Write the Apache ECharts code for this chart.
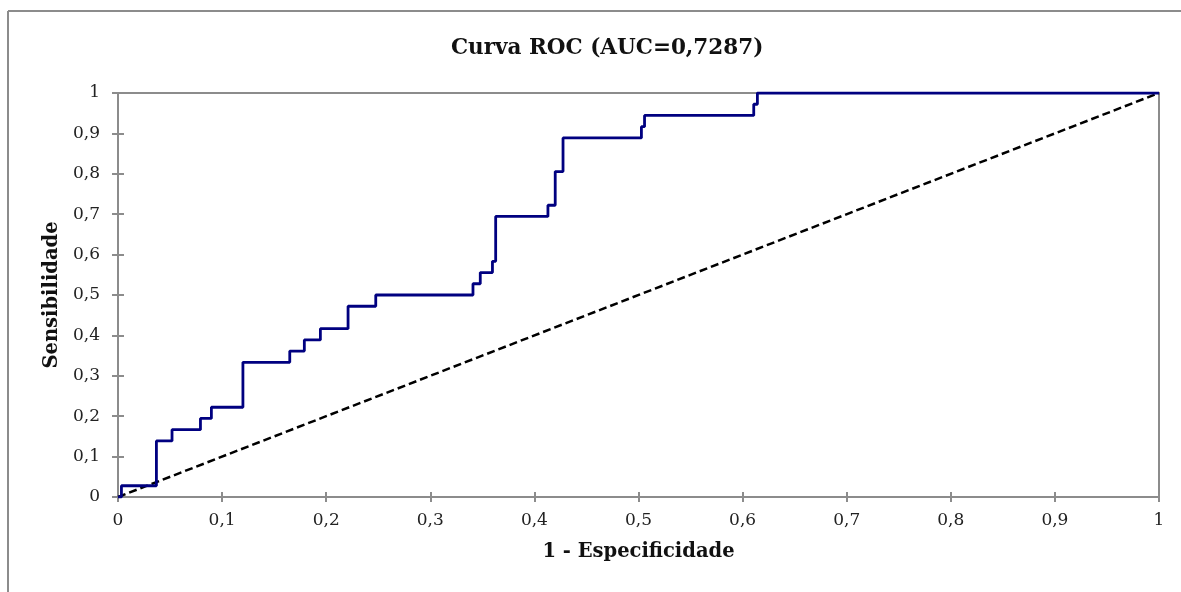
<!DOCTYPE html>
<html>
<head>
<meta charset="utf-8">
<script src="https://cdn.jsdelivr.net/npm/echarts@6/dist/echarts.min.js"></script>
<style>
  html, body { margin: 0; padding: 0; background: #fff; }
  #main { width: 1181px; height: 592px; }
</style>
</head>
<body>
<div id="main"></div>
<script>
// ROC points (1 - especificidade, sensibilidade)
var fpr = [0, 0.0033, 0.0369, 0.0519, 0.0792, 0.0897, 0.120, 0.165, 0.179, 0.1944, 0.221, 0.2476,
           0.341, 0.348, 0.3597, 0.3628, 0.413, 0.420, 0.4275, 0.5028, 0.5058, 0.6107, 0.6142, 1];
var tpr = [0, 0.0278, 0.1389, 0.1667, 0.1944, 0.2222, 0.3333, 0.3611, 0.3889, 0.4167, 0.4722, 0.5,
           0.5278, 0.5556, 0.5833, 0.6944, 0.7222, 0.8056, 0.8889, 0.9167, 0.9444, 0.9722, 1, 1];
// reference diagonal
var diagX = [0, 1];
var diagY = [0, 1];

var titleText = 'Curva ROC (AUC=0,7287)';
var xName = '1 - Especificidade';
var yName = 'Sensibilidade';

var chart = echarts.init(document.getElementById('main'));

var serif = 'DejaVu Serif';
var axisGray = '#8c8c8c';

function fmt(v) {
    return String(Math.round(v * 10) / 10).replace('.', ',');
}

var rocData = fpr.map(function (x, i) { return [x, tpr[i]]; });
var diagData = diagX.map(function (x, i) { return [x, diagY[i]]; });

chart.setOption({
    animation: false,
    // outer chart frame: only its top and left edges fall inside the picture
    graphic: [{
        type: 'line',
        shape: { x1: 8, y1: 11, x2: 1181, y2: 11 },
        style: { stroke: axisGray, lineWidth: 2 },
        silent: true
    }, {
        type: 'line',
        shape: { x1: 8, y1: 11, x2: 8, y2: 592 },
        style: { stroke: axisGray, lineWidth: 2 },
        silent: true
    }],
    title: {
        text: titleText,
        left: 446,
        top: 32,
        textStyle: { fontFamily: serif, fontWeight: 'bold', fontSize: 21.5, color: '#111' }
    },
    grid: {
        left: 118, right: 22, top: 93, bottom: 95,
        show: true,
        borderColor: axisGray,
        borderWidth: 2
    },
    xAxis: [{
        type: 'value',
        min: 0, max: 1, interval: 0.1,
        name: xName,
        nameLocation: 'middle',
        nameGap: 45,
        nameTextStyle: { fontFamily: serif, fontWeight: 'bold', fontSize: 19.5, color: '#111' },
        axisLine: { lineStyle: { color: axisGray, width: 2 } },
        axisTick: { show: true, inside: false, length: 5, lineStyle: { color: axisGray, width: 2 } },
        axisLabel: { margin: 15, fontFamily: serif, fontSize: 17, color: '#222', formatter: fmt },
        splitLine: { show: false }
    }, {
        type: 'value',
        min: 0, max: 1, interval: 0.1,
        position: 'bottom',
        axisLine: { show: false },
        axisTick: { show: true, inside: true, length: 5, lineStyle: { color: axisGray, width: 2 } },
        axisLabel: { show: false },
        splitLine: { show: false }
    }],
    yAxis: [{
        type: 'value',
        min: 0, max: 1, interval: 0.1,
        name: yName,
        nameLocation: 'middle',
        nameGap: 55,
        nameTextStyle: { fontFamily: serif, fontWeight: 'bold', fontSize: 19.5, color: '#111' },
        axisLine: { show: true, lineStyle: { color: axisGray, width: 2 } },
        axisTick: { show: true, inside: false, length: 6, lineStyle: { color: axisGray, width: 2 } },
        axisLabel: { margin: 18, fontFamily: serif, fontSize: 17, color: '#222', formatter: fmt },
        splitLine: { show: false }
    }, {
        type: 'value',
        min: 0, max: 1, interval: 0.1,
        position: 'left',
        axisLine: { show: false },
        axisTick: { show: true, inside: true, length: 6, lineStyle: { color: axisGray, width: 2 } },
        axisLabel: { show: false },
        splitLine: { show: false }
    }],
    series: [{
        type: 'line',
        name: 'diagonal',
        data: diagData,
        showSymbol: false,
        lineStyle: { color: '#000', width: 2.5, type: [8, 4] },
        z: 3
    }, {
        type: 'line',
        name: 'ROC',
        data: rocData,
        step: 'end',
        showSymbol: false,
        lineStyle: { color: '#000080', width: 2.8 },
        z: 4
    }]
});
</script>
</body>
</html>
